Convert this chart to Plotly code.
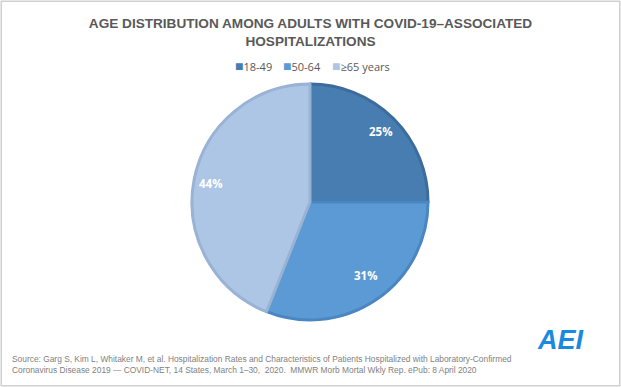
import math
import plotly.graph_objects as go

categories = ["18-49", "50-64", "≥65 years"]
values = [25, 31, 44]
fill_colors = ["#477db0", "#5b9ad5", "#adc6e6"]
line_colors = ["#3c6c9b", "#4a86c1", "#99b3d4"]

title_text = "AGE DISTRIBUTION AMONG ADULTS WITH COVID-19–ASSOCIATED<br>HOSPITALIZATIONS"
source_text = ("Source: Garg S, Kim L, Whitaker M, et al. Hospitalization Rates and Characteristics of Patients Hospitalized with Laboratory-Confirmed<br>"
               "Coronavirus Disease 2019 — COVID-NET, 14 States, March 1–30,  2020.  MMWR Morb Mortal Wkly Rep. ePub: 8 April 2020")

W, H = 621, 387
cx, cy, R = 310, 202, 118  # pie geometry in pixels
dom_x = [(cx - R) / W, (cx + R) / W]
dom_y = [(H - (cy + R)) / H, (H - (cy - R)) / H]

fig = go.Figure()
fig.add_trace(go.Pie(
    labels=categories, values=values, sort=False, direction="clockwise",
    rotation=0, marker=dict(colors=fill_colors, line=dict(color=line_colors, width=3)),
    textinfo="none", hoverinfo="label+percent", showlegend=False,
    domain=dict(x=dom_x, y=dom_y),
))

annotations = []
total = sum(values)
cum = 0
for v in values:
    mid = (cum + v / 2) / total * 2 * math.pi
    cum += v
    px = cx + 0.85 * R * math.sin(mid)
    py = cy - 0.85 * R * math.cos(mid)
    annotations.append(dict(x=px / W, y=1 - py / H, xref="paper", yref="paper",
                            text="<b>%d%%</b>" % round(v / total * 100), showarrow=False,
                            font=dict(color="white", size=11.5, family="Open Sans")))

# legend entries (manual, to match compact Excel-style legend)
legend_x = [233, 281, 330]
for lx, cat, col in zip(legend_x, categories, fill_colors):
    annotations.append(dict(x=lx / W, y=1 - 65 / H, xref="paper", yref="paper", xanchor="left",
                            yanchor="middle", showarrow=False,
                            text='<span style="color:%s;font-size:14px">■</span>%s' % (col, cat),
                            font=dict(size=11, color="#595959", family="Open Sans")))

annotations.append(dict(x=10 / W, y=1 - 364 / H, xref="paper", yref="paper", xanchor="left",
                        yanchor="middle", align="left", text=source_text, showarrow=False,
                        font=dict(color="#7f7f7f", size=8.4, family="Liberation Sans")))
annotations.append(dict(x=586 / W, y=1 - 357 / H, xref="paper", yref="paper",
                        text="<b><i>AEI</i></b>", showarrow=False,
                        font=dict(color="#1a8ae0", size=27, family="Liberation Sans")))

fig.update_layout(
    width=W, height=H, margin=dict(l=0, r=0, t=0, b=0),
    paper_bgcolor="white", plot_bgcolor="white",
    title=dict(text="<b>" + title_text + "</b>", x=0.5, xanchor="center", y=1 - 28 / H, yanchor="middle",
               font=dict(size=13.6, color="#595959", family="Liberation Sans")),
    showlegend=False,
    annotations=annotations,
    shapes=[dict(type="rect", xref="paper", yref="paper", x0=0.002, y0=0.003, x1=0.998, y1=0.997,
                 line=dict(color="#d0d0d0", width=1.5))],
)

fig.write_html("out.html", config={"displayModeBar": False},
               post_script="document.body.style.margin='0';")
